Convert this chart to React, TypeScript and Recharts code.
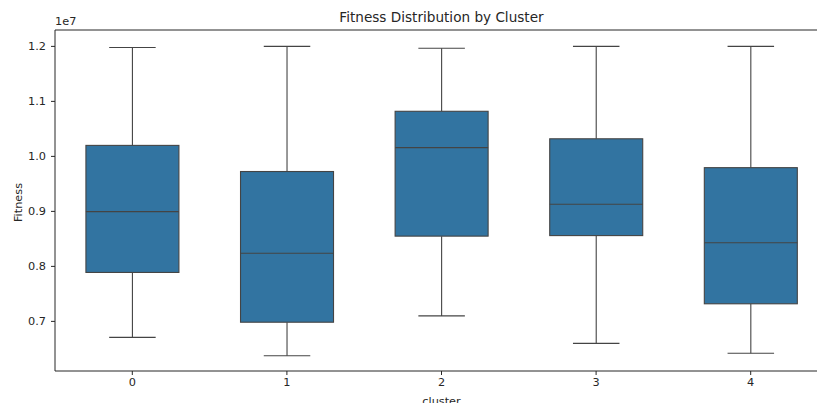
import React from 'react';
import { ComposedChart, Bar, XAxis, YAxis, ReferenceLine, Label } from 'recharts';

// Box-plot summary per cluster (Fitness values)
const clusters = ['0', '1', '2', '3', '4'];
const whiskerLow = [6710000, 6376000, 7100000, 6600000, 6420000];
const quartile1 = [7890000, 6985000, 8550000, 8560000, 7320000];
const medians = [8995000, 8240000, 10160000, 9130000, 8430000];
const quartile3 = [10200000, 9725000, 10820000, 10320000, 9795000];
const whiskerHigh = [11980000, 12000000, 11965000, 12000000, 12000000];
const yTicks = [7000000, 8000000, 9000000, 10000000, 11000000, 12000000];

const Y_DOMAIN: [number, number] = [6098000, 12298000];
const INK = '#262626';
const EDGE = '#444444';
const FILL = '#3274a1';
const FONT = '"DejaVu Sans", sans-serif';

const data = clusters.map((c, i) => ({
  cluster: c,
  low: whiskerLow[i],
  q1: quartile1[i],
  median: medians[i],
  q3: quartile3[i],
  high: whiskerHigh[i],
  range: [whiskerLow[i], whiskerHigh[i]],
}));

// Draws one box with whiskers inside the bar's [low, high] pixel span
const BoxShape = (props: any) => {
  const { x, y, width, height } = props;
  const d = props.payload ?? props;
  const span = d.high - d.low;
  const py = (v: number) => y + (height * (d.high - v)) / span;
  const cx = x + width / 2;
  const cap = width / 4;
  const top = py(d.q3);
  const bottom = py(d.q1);
  return (
    <g>
      <line x1={cx} x2={cx} y1={py(d.high)} y2={top} stroke={EDGE} strokeWidth={1.1} />
      <line x1={cx} x2={cx} y1={bottom} y2={py(d.low)} stroke={EDGE} strokeWidth={1.1} />
      <line x1={cx - cap} x2={cx + cap} y1={py(d.high)} y2={py(d.high)} stroke={EDGE} strokeWidth={1.1} />
      <line x1={cx - cap} x2={cx + cap} y1={py(d.low)} y2={py(d.low)} stroke={EDGE} strokeWidth={1.1} />
      <rect x={x} y={top} width={width} height={bottom - top} fill={FILL} stroke={EDGE} strokeWidth={1.1} />
      <line x1={x} x2={x + width} y1={py(d.median)} y2={py(d.median)} stroke={EDGE} strokeWidth={1.1} />
    </g>
  );
};

export default function App() {
  return (
    <div
      style={{
        position: 'absolute',
        left: 0,
        top: 0,
        width: 817,
        height: 403,
        overflow: 'hidden',
        background: '#fff',
        fontFamily: FONT,
      }}
    >
      <div
        style={{
          position: 'absolute',
          left: 0,
          width: 883,
          top: 8,
          textAlign: 'center',
          fontSize: 13.6,
          color: INK,
          lineHeight: '18px',
        }}
      >
        Fitness Distribution by Cluster
      </div>
      <div
        style={{
          position: 'absolute',
          left: 55,
          top: 15,
          fontSize: 11.3,
          color: INK,
          lineHeight: '14px',
        }}
      >
        1e7
      </div>
      <ComposedChart
        width={830}
        height={403}
        data={data}
        margin={{ top: 30, right: 2, left: 10, bottom: 0 }}
        barCategoryGap="20%"
        style={{ fontFamily: FONT }}
      >
        <XAxis
          dataKey="cluster"
          height={32}
          tickSize={4}
          tickMargin={3}
          axisLine={{ stroke: INK, strokeWidth: 1 }}
          tickLine={{ stroke: INK }}
          tick={{ fill: INK, fontSize: 11.3 }}
        >
          <Label
            content={() => (
              <text x={441.5} y={405} textAnchor="middle" fill={INK} fontSize={11.3} fontFamily={FONT}>
                cluster
              </text>
            )}
          />
        </XAxis>
        <YAxis
          type="number"
          domain={Y_DOMAIN}
          ticks={yTicks}
          width={45}
          tickSize={4}
          tickMargin={5}
          allowDataOverflow
          tickFormatter={(v: number) => (v / 1e7).toFixed(1)}
          axisLine={{ stroke: INK, strokeWidth: 1 }}
          tickLine={{ stroke: INK }}
          tick={{ fill: INK, fontSize: 11.3 }}
        >
          <Label
            content={() => (
              <text
                x={22}
                y={202.5}
                transform="rotate(-90 22 202.5)"
                textAnchor="middle"
                fill={INK}
                fontSize={11.3}
                fontFamily={FONT}
              >
                Fitness
              </text>
            )}
          />
        </YAxis>
        <ReferenceLine y={Y_DOMAIN[1]} stroke={INK} strokeWidth={1} ifOverflow="visible" />
        <Bar dataKey="range" shape={BoxShape} isAnimationActive={false} />
      </ComposedChart>
    </div>
  );
}
